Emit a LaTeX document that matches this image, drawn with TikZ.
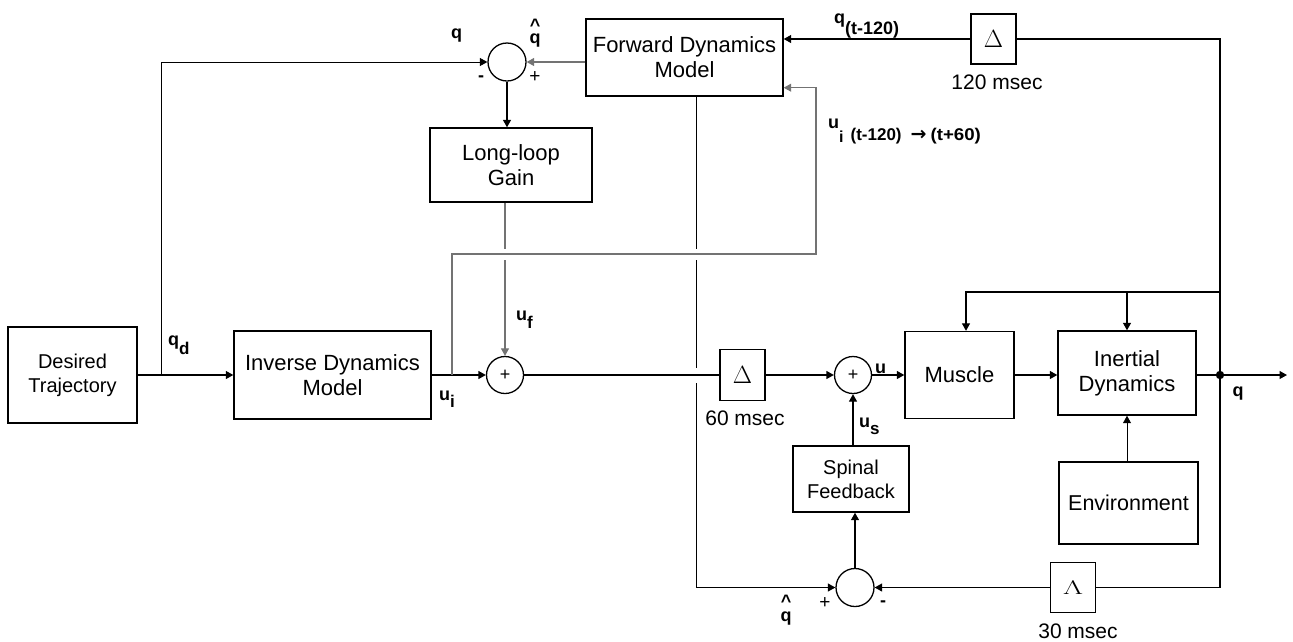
\documentclass[tikz,border=0pt]{standalone}
\usepackage{fontspec}
\setmainfont{Liberation Sans}
\newfontfamily\djv{DejaVu Sans}
\usetikzlibrary{arrows.meta,calc}
\newcommand\sbs[2][5]{\raisebox{-#1pt}{\fontsize{17}{17}\selectfont #2}}
\newcommand\dlt{\scalebox{1.2}{$\Delta$}}
\newcommand\lmb{\scalebox{1.5}[0.95]{$\Lambda$}}
\begin{document}
\begin{tikzpicture}[x=1pt,y=-1pt,
  blk/.style={draw,line width=1.4pt,inner sep=0pt,align=center,font=\fontsize{22}{25}\selectfont},
  sm/.style={draw,circle,line width=1.3pt,minimum size=37pt,inner sep=0pt,font=\fontsize{18}{18}\selectfont},
  ln/.style={line width=1.3pt},
  fine/.style={line width=0.9pt},
  gl/.style={line width=1.1pt,draw=black!55},
  arr/.style={-{Triangle[length=7.5pt,width=8pt]}},
  lab/.style={font=\fontsize{18}{18}\selectfont\bfseries,inner sep=0pt},
  sgn/.style={font=\fontsize{19}{19}\selectfont,inner sep=0pt},
  txt/.style={font=\fontsize{21}{21}\selectfont,inner sep=0pt},
]
\useasboundingbox (0,0) rectangle (1293,641);
% blocks
\node[blk,minimum width=129pt,minimum height=96pt,font=\fontsize{20}{24}\selectfont] (dt) at (72.5,375) {Desired\\Trajectory};
\node[blk,minimum width=197pt,minimum height=88pt] (idm) at (332.5,375) {Inverse Dynamics\\Model};
\node[blk,minimum width=162pt,minimum height=74pt] (llg) at (511,165) {Long-loop\\Gain};
\node[blk,minimum width=197pt,minimum height=77pt] (fdm) at (684.5,57.5) {Forward Dynamics\\Model};
\node[blk,minimum width=45pt,minimum height=50pt] (d120) at (993.5,39) {\dlt};
\node[blk,minimum width=45pt,minimum height=51pt] (d60) at (742.5,375) {\dlt};
\node[blk,minimum width=109pt,minimum height=87pt] (mus) at (959.5,375) {Muscle};
\node[blk,minimum width=138pt,minimum height=84pt] (ine) at (1127,373) {Inertial\\Dynamics};
\node[blk,minimum width=116pt,minimum height=66pt,font=\fontsize{20}{24}\selectfont] (spi) at (851,479) {Spinal\\Feedback};
\node[blk,minimum width=139pt,minimum height=82pt,font=\fontsize{21.5}{25}\selectfont] (env) at (1128.5,503) {Environment};
\node[blk,minimum width=45pt,minimum height=50pt] (lam) at (1073,587.5) {\lmb};
% summing junctions
\node[sm,minimum size=38pt] (s1) at (507,62) {};
\node[sm] (s2) at (505,375) {+};
\node[sm] (s3) at (853,375) {+};
\node[sm,minimum size=38pt] (s4) at (855,587.5) {};
% coordinates
\coordinate (br) at (161,375);
\coordinate (fv) at ($(fdm.south)+(11.5,0)$);
\coordinate (ub) at (452,375);
\coordinate (uc) at (816,254);
\coordinate (ud) at ($(fdm.south east)+(0,-9)$);
\coordinate (dot) at (1220,375);
\coordinate (out) at (1287,375);
\coordinate (tf) at (1220,292);
\coordinate (ma) at ($(mus.north)+(6.5,0)$);
\coordinate (c1) at (s2 |- uc);
\coordinate (c2) at (fv |- uc);
\coordinate (c3) at (fv |- s2);
% vertical lines that are crossed
\draw[gl,arr] (llg.south -| s2.north) -- (s2.north);
\draw[fine,arr] (fv) |- (s4.west);
\fill[white] ($(c1)+(-4,-5.5)$) rectangle ($(c1)+(4,5.5)$);
\fill[white] ($(c2)+(-4,-5.5)$) rectangle ($(c2)+(4,5.5)$);
\fill[white] ($(c3)+(-4,-7.5)$) rectangle ($(c3)+(4,7.5)$);
% connectors
\draw[ln,arr] (dt.east) -- (idm.west);
\draw[fine,arr] (br) |- (s1.west);
\draw[gl,arr] (fdm.west |- s1.east) -- (s1.east);
\draw[ln,arr] (s1.south) -- (s1.south |- llg.north);
\draw[ln,arr] (idm.east) -- (s2.west);
\draw[gl,arr] (ub) |- (uc) |- (ud);
\draw[ln] (s2.east) -- (d60.west);
\draw[ln,arr] (d60.east) -- (s3.west);
\draw[ln,arr] (s3.east) -- (mus.west);
\draw[ln,arr] (mus.east) -- (mus.east -| ine.west);
\draw[ln] (mus.east -| ine.east) -- (dot);
\draw[ln,arr] (dot) -- (out);
\fill (dot) circle (4.2pt);
\draw[ln] (dot) |- (d120.east);
\draw[ln,arr] (d120.west) -- (d120.west -| fdm.east);
\draw[ln] (dot) |- (lam.east);
\draw[ln,arr] (lam.west) -- (s4.east);
\draw[ln,arr] (tf) -| (ma);
\draw[ln,arr] (ine.north |- tf) -- (ine.north);
\draw[fine,arr] (env.north -| ine.south) -- (ine.south);
\draw[ln,arr] (s4.north) -- (s4.north |- spi.south);
\draw[ln,arr] (spi.north -| s3.south) -- (s3.south);
% labels
\node[lab,anchor=base west] (lq) at (451,38) {q};
\node[lab,anchor=base] (lhat1) at (535,31.5) {\textasciicircum};
\node[lab,anchor=base] (lqh) at (535,43) {q};
\node[lab] (lm1) at (481,79) {-};
\node[sgn] (lp1) at (535,77) {+};
\node[lab,anchor=base west] (lqt) at (834,23) {q\raisebox{-11pt}{\fontsize{18}{18}\selectfont (t-120)}};
\node[txt] (l120) at (997,82) {120 msec};
\node[lab,anchor=base west] (lui) at (828,128) {u\raisebox{-14pt}{\fontsize{16}{16}\selectfont i}\hspace{7pt}\raisebox{-12pt}{\fontsize{17}{17}\selectfont (t-120)\hspace{9pt}{\djv\bfseries\fontsize{19}{19}\selectfont →}\hspace{4pt}\scalebox{1.1}[1]{(t+60)}}};
\node[lab,anchor=base west] (lqd) at (168,345) {q\sbs[9]{d}};
\node[lab,anchor=base west] (lui2) at (439,400) {u\sbs[7]{i}};
\node[lab,anchor=base west] (luf) at (516,320) {u\sbs[8]{f}};
\node[txt] (l60) at (745,418) {60 msec};
\node[lab,anchor=base west] (lu) at (875,373) {u};
\node[lab,anchor=base west] (lus) at (859,427) {u\sbs[7]{s}};
\node[lab] (lqo) at (1238,394) {q};
\node[sgn] (lp4) at (825,603) {+};
\node[lab] (lm4) at (883,604) {-};
\node[lab,anchor=base] (lhat4) at (786,607.5) {\textasciicircum};
\node[lab,anchor=base] (lqh4) at (786,621) {q};
\node[txt] (l30) at (1078,631) {30 msec};
\end{tikzpicture}
\end{document}
